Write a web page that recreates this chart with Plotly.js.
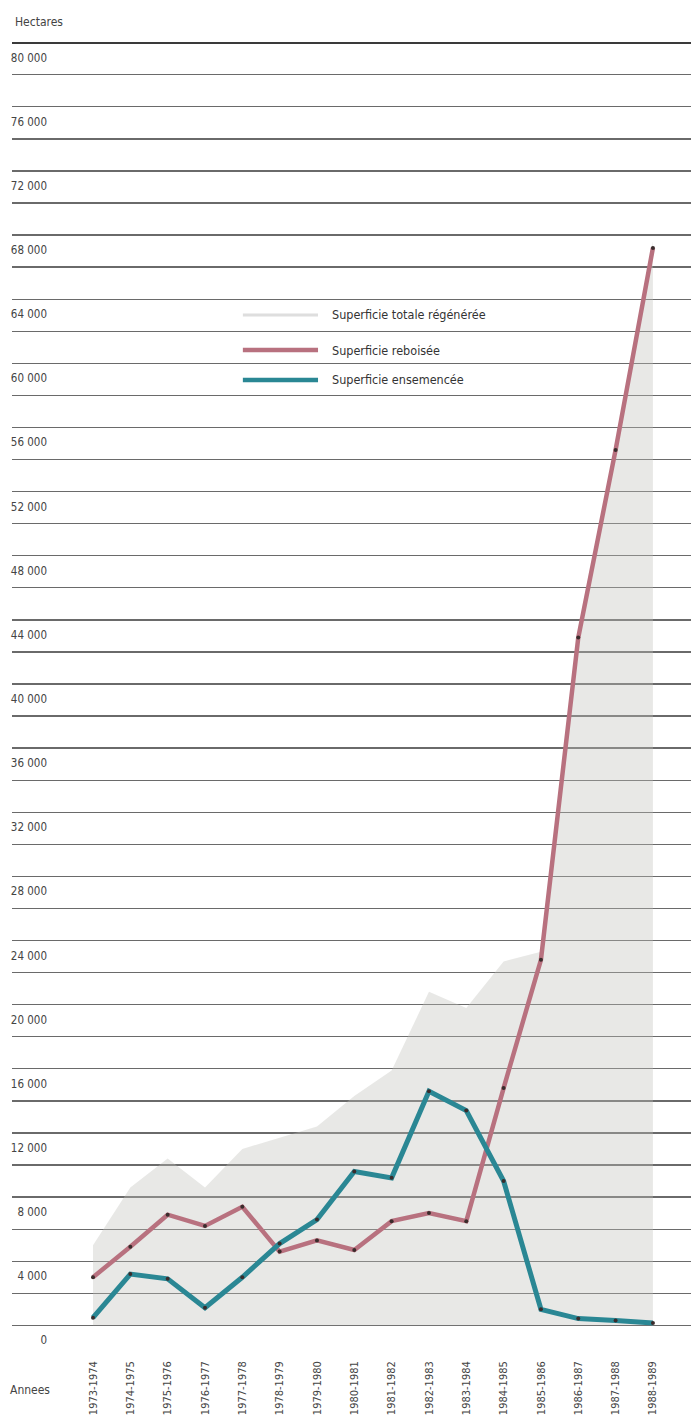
<!DOCTYPE html>
<html>
<head>
<meta charset="utf-8">
<script src="https://cdn.plot.ly/plotly-3.0.1.min.js"></script>
<style>html,body{margin:0;padding:0;background:#fff;}</style>
</head>
<body>
<div id="chart" style="width:691px;height:1420px;"></div>
<script>
const categories = ['1973-1974','1974-1975','1975-1976','1976-1977','1977-1978','1978-1979','1979-1980','1980-1981','1981-1982','1982-1983','1983-1984','1984-1985','1985-1986','1986-1987','1987-1988','1988-1989'];
const superficieTotale = [5000, 8600, 10400, 8600, 11000, 11700, 12400, 14300, 15900, 20800, 19800, 22700, 23300, 43500, 55000, 67600];
const superficieReboisee = [3000, 4900, 6900, 6200, 7400, 4600, 5300, 4700, 6500, 7000, 6500, 14800, 22800, 42900, 54600, 67200];
const superficieEnsemencee = [480, 3200, 2900, 1100, 3000, 5100, 6600, 9600, 9200, 14600, 13400, 9000, 1000, 420, 300, 150];
const seriesNames = ['Superficie totale régénérée', 'Superficie reboisée', 'Superficie ensemencée'];
const yTickVals = [0,4000,8000,12000,16000,20000,24000,28000,32000,36000,40000,44000,48000,52000,56000,60000,64000,68000,72000,76000,80000];
const yTickText = ['0','4 000','8 000','12 000','16 000','20 000','24 000','28 000','32 000','36 000','40 000','44 000','48 000','52 000','56 000','60 000','64 000','68 000','72 000','76 000','80 000'];

const FONT = 'DejaVu Sans Condensed, DejaVu Sans, sans-serif';
const colTotal = 'rgba(190,192,185,0.36)';
const colRed = '#b8717f';
const colBlue = '#2a8794';
const colDot = '#3a2c2c';
const colGrid = '#6a6a6a';

const traces = [
  {x: categories, y: superficieTotale, type: 'scatter', mode: 'none', fill: 'tozeroy',
   fillcolor: colTotal, name: seriesNames[0], hoverinfo: 'skip'},
  {x: categories, y: superficieReboisee, type: 'scatter', mode: 'lines+markers', name: seriesNames[1],
   line: {color: colRed, width: 4.5}, marker: {color: colDot, size: 4}},
  {x: categories, y: superficieEnsemencee, type: 'scatter', mode: 'lines+markers', name: seriesNames[2],
   line: {color: colBlue, width: 5}, marker: {color: colDot, size: 4}}
];

// legend drawn manually (paper coords)
const legendRows = [0.7874, 0.7601, 0.7368];
const legendColors = ['#dedede', colRed, colBlue];
const shapes = [
  {type: 'line', xref: 'paper', yref: 'y', x0: 0, x1: 1, y0: 80000, y1: 80000, line: {color: '#3a3a3a', width: 2.5}}
];
const annotations = [
  {text: 'Hectares', xref: 'paper', yref: 'paper', x: 0.0015, y: 1.0156, xanchor: 'left', yanchor: 'middle', showarrow: false, font: {family: FONT, size: 12, color: '#444'}},
  {text: 'Annees', xref: 'paper', yref: 'paper', x: -0.006, y: -0.0498, xanchor: 'left', yanchor: 'middle', showarrow: false, font: {family: FONT, size: 12, color: '#444'}}
];
seriesNames.forEach((n, i) => {
  shapes.push({type: 'line', xref: 'paper', yref: 'paper', x0: 0.340, x1: 0.4507, y0: legendRows[i], y1: legendRows[i],
    line: {color: legendColors[i], width: i === 0 ? 3 : 4.5}});
  annotations.push({text: n, xref: 'paper', yref: 'paper', x: 0.468, y: legendRows[i], xanchor: 'left', yanchor: 'middle',
    showarrow: false, font: {family: FONT, size: 12.5, color: '#333'}});
});

const layout = {
  width: 691, height: 1420,
  margin: {l: 12, r: 0, t: 42, b: 94, pad: 0},
  paper_bgcolor: '#fff', plot_bgcolor: '#fff',
  showlegend: false,
  font: {family: FONT, color: '#444'},
  xaxis: {
    type: 'category', categoryorder: 'array', categoryarray: categories,
    range: [-2.17, 16.02], showgrid: false, zeroline: false, showline: false,
    ticks: '', tickangle: -90, ticklabelstandoff: 32,
    tickfont: {family: FONT, size: 11, color: '#444'}, fixedrange: true
  },
  yaxis: {
    range: [-40, 80040], tickmode: 'array', tickvals: yTickVals, ticktext: yTickText,
    showgrid: true, gridcolor: colGrid, gridwidth: 1.3,
    minor: {dtick: 2000, tick0: 0, showgrid: true, gridcolor: colGrid, gridwidth: 1.3, ticks: ''},
    zeroline: true, zerolinecolor: colGrid, zerolinewidth: 1.3,
    showline: false, ticks: '',
    ticklabelshift: 15, ticklabelstandoff: -36,
    tickfont: {family: FONT, size: 11.5, color: '#444'}, fixedrange: true
  },
  shapes: shapes,
  annotations: annotations
};

Plotly.newPlot('chart', traces, layout, {staticPlot: true, displayModeBar: false});
</script>
</body>
</html>
